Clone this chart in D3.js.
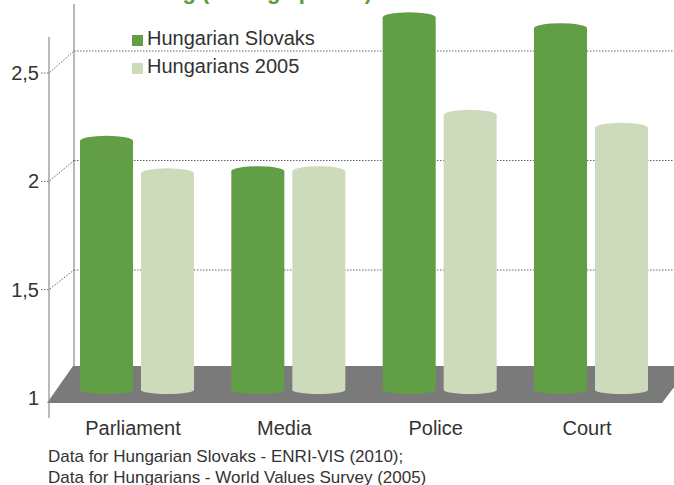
<!DOCTYPE html>
<html>
<head>
<meta charset="utf-8">
<script src="https://cdn.jsdelivr.net/npm/d3@7"></script>
<style>
  body { margin: 0; background: #fff; }
  svg { display: block; font-family: "Liberation Sans", Arial, sans-serif; }
</style>
</head>
<body>
<svg id="chart" width="674" height="485"></svg>
<script>
// data
const categories = ['Parliament', 'Media', 'Police', 'Court'];
const seriesNames = ['Hungarian Slovaks', 'Hungarians 2005'];
const slovaks = [2.15, 2.01, 2.72, 2.67];
const hungarians = [2.0, 2.01, 2.27, 2.21];
const tickValues = [1, 1.5, 2, 2.5];
const tickLabels = ['1', '1,5', '2', '2,5'];
const notes = [
  'Data for Hungarian Slovaks - ENRI-VIS (2010);',
  'Data for Hungarians - World Values Survey (2005)'
];

const colors = ['#629e45', '#cddabc'];
const svg = d3.select('#chart');

// bars stand in the middle of the depth, axis in front, grid at the back
let yMid = d3.scaleLinear().domain([1, 2.5]).range([390, 65]);
let yFront = d3.scaleLinear().domain([1, 2.5]).range([398, 73]);
let yBack = d3.scaleLinear().domain([1.5, 2.5]).range([270, 51]);

let x0 = d3.scalePoint().domain(categories).range([137, 591]);
let x1 = d3.scaleBand().domain(seriesNames).range([-57, 57]).paddingInner(0.131);

// title (mostly above the frame)
svg.append('text')
  .attr('x', 372).attr('y', -1)
  .attr('text-anchor', 'end')
  .attr('fill', '#5d9b3c')
  .attr('font-weight', 'bold')
  .attr('font-size', 22)
  .text('Trust in institutions - rating (average points)');

// floor
svg.append('polygon')
  .attr('points', '47,403 73,366 690,366 662,403')
  .attr('fill', '#7a7a7a');

// walls
svg.append('line').attr('x1', 74).attr('x2', 74).attr('y1', 4).attr('y2', 366)
  .attr('stroke', '#8c8c8c').attr('stroke-width', 1.2);
svg.append('line').attr('x1', 49).attr('x2', 49).attr('y1', 37).attr('y2', 418)
  .attr('stroke', '#8c8c8c').attr('stroke-width', 1.2);

// gridlines
const grid = tickValues.filter(v => v > 1);
svg.append('g').selectAll('line').data(grid).join('line')
  .attr('x1', 74).attr('x2', 674)
  .attr('y1', d => yBack(d)).attr('y2', d => yBack(d))
  .attr('stroke', '#666').attr('stroke-width', 1).attr('stroke-dasharray', '1.5,1.5');
svg.append('g').selectAll('polyline').data(grid).join('polyline')
  .attr('points', d => `41,${yFront(d)} 49,${yFront(d)} 74,${yBack(d)}`)
  .attr('fill', 'none')
  .attr('stroke', '#666').attr('stroke-width', 1).attr('stroke-dasharray', '1.5,1.5');

// tick labels
svg.append('g').selectAll('text').data(tickValues).join('text')
  .attr('x', 39).attr('y', d => yFront(d))
  .attr('dy', '0.35em')
  .attr('text-anchor', 'end')
  .attr('font-size', 20)
  .attr('fill', '#333')
  .text((d, i) => tickLabels[i]);

// bars as cylinders
const rows = categories.map((c, i) => ({ cat: c, vals: [slovaks[i], hungarians[i]] }));
const bw = x1.bandwidth();
const groups = svg.append('g').selectAll('g').data(rows).join('g')
  .attr('transform', d => `translate(${x0(d.cat)},0)`);

const bars = groups.selectAll('g').data(d => d.vals.map((v, k) => ({ v, s: seriesNames[k], k })))
  .join('g');
bars.append('rect')
  .attr('x', d => x1(d.s)).attr('width', bw)
  .attr('y', d => yMid(d.v)).attr('height', d => yMid(1) - yMid(d.v))
  .attr('fill', d => colors[d.k]);
bars.append('ellipse')
  .attr('cx', d => x1(d.s) + bw / 2).attr('cy', yMid(1))
  .attr('rx', bw / 2).attr('ry', 4)
  .attr('fill', d => colors[d.k]);
bars.append('ellipse')
  .attr('cx', d => x1(d.s) + bw / 2).attr('cy', d => yMid(d.v))
  .attr('rx', bw / 2).attr('ry', 5)
  .attr('fill', d => colors[d.k]);

// category labels
svg.append('g').selectAll('text').data(categories).join('text')
  .attr('x', d => x0(d) - 4).attr('y', 435)
  .attr('text-anchor', 'middle')
  .attr('font-size', 20)
  .attr('fill', '#333')
  .text(d => d);

// legend
const leg = svg.append('g').selectAll('g').data(seriesNames).join('g')
  .attr('transform', (d, i) => `translate(132,${35 + i * 28})`);
leg.append('rect').attr('width', 11).attr('height', 11)
  .attr('fill', (d, i) => colors[i]);
leg.append('text')
  .attr('x', 15).attr('y', 10)
  .attr('font-size', 20)
  .attr('fill', '#333')
  .text(d => d);

// source note
svg.append('g').selectAll('text').data(notes).join('text')
  .attr('x', 48).attr('y', (d, i) => 462 + i * 21)
  .attr('font-size', 17)
  .attr('fill', '#333')
  .text(d => d);
</script>
</body>
</html>
